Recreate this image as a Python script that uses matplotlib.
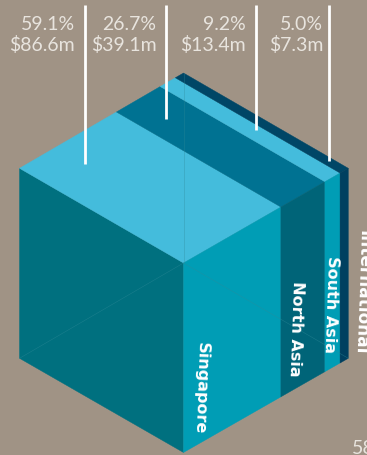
import matplotlib
matplotlib.use("Agg")
import matplotlib.pyplot as plt
from matplotlib.patches import Polygon

# Revenue split by region
regions = ["Singapore", "North Asia", "South Asia", "International"]
shares = [59.1, 26.7, 9.2, 5.0]
share_labels = ["59.1%", "26.7%", "9.2%", "5.0%"]
revenue_labels = ["$86.6m", "$39.1m", "$13.4m", "$7.3m"]

BG = "#a09385"
TOP = ["#44bcdc", "#007292", "#44bcdc", "#004666"]
RIGHT = ["#009db5", "#006478", "#009db5", "#004060"]
LEFT = "#00707f"
HAIR = "#2f8a98"

W, H = 367, 456
fig = plt.figure(figsize=(W / 100, H / 100), dpi=100, facecolor=BG)
ax = fig.add_axes([0, 0, 1, 1])
ax.set_xlim(0, W)
ax.set_ylim(H, 0)
ax.axis("off")

# cube corners in canvas coordinates
left_t = (19.5, 169.3)
back_t = (183.5, 74.0)
right_t = (348.3, 169.3)
front_t = (183.5, 264.0)
front_b = (183.5, 453.5)
left_b = (19.5, 359.3)
right_b = (348.3, 359.3)


def lerp(a, b, t):
    return (a[0] + (b[0] - a[0]) * t, a[1] + (b[1] - a[1]) * t)


def face(pts, color, z=1):
    ax.add_patch(Polygon(pts, closed=True, facecolor=color, edgecolor=color,
                         linewidth=0.3, zorder=z))


# left face
face([left_t, front_t, front_b, left_b], LEFT)

# one slice per region on the top and right faces
cum = 0.0
for i, s in enumerate(shares):
    a, b = cum / 100, (cum + s) / 100
    face([lerp(left_t, back_t, a), lerp(left_t, back_t, b),
          lerp(front_t, right_t, b), lerp(front_t, right_t, a)], TOP[i])
    face([lerp(front_t, right_t, a), lerp(front_t, right_t, b),
          lerp(front_b, right_b, b), lerp(front_b, right_b, a)], RIGHT[i])
    cum += s

# hidden edges of the cube
for p, q in [(left_b, front_t), (front_t, right_b), (back_t, front_t)]:
    ax.plot([p[0], q[0]], [p[1], q[1]], color=HAIR, lw=0.4, alpha=0.55, zorder=2)

# leader lines and labels
line_x = [84.5, 165.5, 255.5, 328.5]
line_end = [165, 120, 131, 162]
text_x = [75, 156.5, 245.5, 323]
for i in range(4):
    ax.plot([line_x[i], line_x[i]], [6, line_end[i]], color="white", lw=2.0,
            solid_capstyle="butt", zorder=4)
    ax.text(text_x[i], 24, share_labels[i], ha="right", va="center", color="#e8e4de",
            fontsize=14, family="Lato", zorder=5)
    ax.text(text_x[i], 45, revenue_labels[i], ha="right", va="center", color="#e8e4de",
            fontsize=14, family="Lato", zorder=5)

# region names run down the right face, baseline on the left
label_x = [196, 291, 326, 357]
label_y = [388, 329, 304.5, 292]
label_size = [11.5, 11.5, 11.5, 12.2]
for i in range(4):
    ax.text(label_x[i], label_y[i], regions[i], rotation=-92, rotation_mode="anchor",
            ha="center", va="baseline", color="white", fontsize=label_size[i],
            fontweight="bold", family="DejaVu Sans", zorder=5)

ax.text(352, 449, "58", ha="left", va="center", color="#e8e4de", fontsize=14,
        family="Lato", zorder=5)

fig.savefig("out.png", dpi=100, facecolor=BG)
